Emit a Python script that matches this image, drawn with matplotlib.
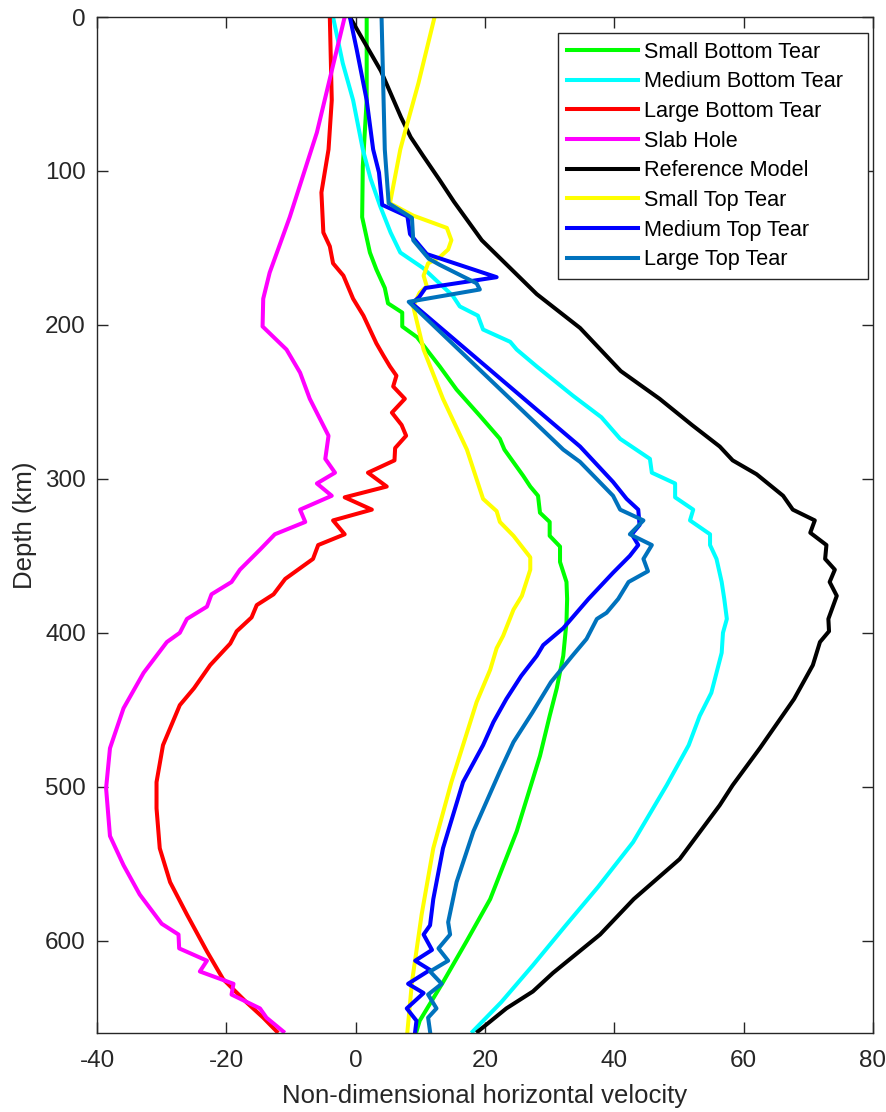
import numpy as np
import matplotlib
matplotlib.use("Agg")
import matplotlib.pyplot as plt

plt.rcParams['font.family'] = ['Liberation Sans', 'DejaVu Sans']
plt.rcParams['axes.unicode_minus'] = False

# depth (km), velocity pairs
small_bottom_d = [0, 54, 97, 130, 153, 164, 176, 186, 192, 201, 208, 227, 242, 259, 274, 281, 298, 305, 311, 322, 328, 337, 344, 354, 367, 378, 393, 415, 436, 454, 480, 529, 573, 600, 627, 652, 659]
small_bottom_v = [1.7, 1.7, 1.1, 1.0, 2.2, 3.2, 4.5, 5.0, 7.2, 7.2, 9.5, 13.0, 15.6, 19.2, 22.3, 23.0, 25.9, 27.0, 28.2, 28.5, 30.0, 30.0, 31.6, 31.6, 32.6, 32.7, 32.6, 32.1, 31.1, 30.0, 28.5, 24.9, 20.8, 17.2, 13.5, 9.9, 9.4]

medium_bottom_d = [0, 30, 54, 86, 105, 123, 140, 153, 163, 181, 188, 194, 203, 211, 216, 227, 246, 260, 274, 287, 296, 303, 312, 320, 327, 336, 343, 352, 367, 378, 391, 400, 413, 439, 454, 473, 499, 536, 565, 590, 616, 640, 659]
medium_bottom_v = [-3.5, -2.0, -0.4, 1.1, 2.3, 3.8, 5.4, 6.9, 10.4, 15.0, 16.1, 18.9, 19.7, 23.9, 24.9, 28.0, 33.6, 38.0, 40.9, 45.5, 45.8, 49.4, 49.4, 52.2, 51.7, 54.8, 54.8, 55.8, 56.6, 57.0, 57.4, 56.8, 56.6, 55.0, 53.2, 51.5, 48.1, 42.9, 37.5, 32.5, 27.4, 22.5, 18.1]

large_bottom_d = [0, 54, 86, 114, 140, 149, 160, 168, 183, 194, 212, 220, 227, 233, 240, 248, 257, 265, 272, 280, 288, 296, 305, 312, 320, 327, 336, 343, 352, 365, 375, 382, 390, 399, 407, 421, 436, 447, 473, 497, 514, 540, 562, 583, 607, 625, 640, 650, 659]
large_bottom_v = [-4.0, -3.7, -4.2, -5.3, -5.0, -4.0, -3.5, -1.9, -0.4, 1.2, 3.2, 4.3, 5.3, 6.3, 5.8, 7.6, 5.6, 7.1, 7.8, 6.1, 6.0, 1.9, 4.8, -1.7, 2.5, -3.5, -1.7, -5.8, -6.6, -10.9, -12.7, -15.3, -16.1, -18.4, -19.4, -22.5, -25.0, -27.2, -29.8, -30.8, -30.8, -30.3, -28.7, -26.1, -23.0, -20.5, -16.9, -14.3, -12.2]

slab_hole_d = [0, 75, 130, 166, 183, 201, 216, 231, 248, 272, 287, 296, 303, 311, 320, 328, 336, 346, 359, 367, 375, 383, 391, 400, 406, 426, 449, 475, 501, 532, 551, 570, 589, 596, 605, 613, 620, 628, 635, 644, 650, 659]
slab_hole_v = [-1.7, -6.0, -10.2, -13.3, -14.3, -14.4, -10.7, -8.6, -7.1, -4.2, -4.7, -3.2, -6.0, -3.7, -8.6, -7.8, -12.5, -14.8, -17.9, -19.2, -22.3, -23.0, -26.1, -27.2, -29.2, -32.8, -35.9, -38.0, -38.6, -38.0, -35.9, -33.4, -30.0, -27.4, -27.3, -23.0, -24.1, -18.9, -19.2, -14.8, -13.8, -11.2]

reference_d = [0, 35, 65, 78, 90, 106, 120, 145, 180, 202, 230, 248, 265, 279, 288, 297, 311, 320, 327, 335, 343, 352, 359, 367, 376, 391, 399, 406, 421, 443, 475, 499, 512, 547, 573, 596, 621, 633, 644, 659]
reference_v = [-0.9, 3.9, 7.0, 8.5, 10.4, 13.0, 15.2, 19.5, 28.0, 34.7, 41.0, 47.0, 52.0, 56.3, 58.3, 62.0, 66.1, 67.6, 71.0, 70.3, 72.8, 72.6, 74.1, 73.3, 74.4, 73.1, 73.2, 71.8, 70.7, 67.8, 62.5, 58.3, 56.3, 50.1, 43.0, 37.8, 30.5, 27.4, 23.3, 18.9]

small_top_d = [0, 43, 75, 86, 121, 129, 137, 145, 151, 156, 160, 168, 175, 179, 188, 216, 248, 281, 313, 321, 328, 337, 351, 359, 376, 385, 402, 410, 424, 445, 473, 497, 540, 583, 627, 659]
small_top_v = [12.2, 9.7, 7.6, 6.9, 5.3, 8.9, 14.1, 14.8, 14.3, 13.0, 11.2, 10.5, 11.0, 9.9, 8.9, 10.5, 13.5, 17.2, 19.7, 21.8, 22.3, 24.4, 27.0, 27.0, 25.7, 24.4, 22.8, 21.8, 20.8, 18.7, 16.6, 14.8, 12.0, 10.2, 8.7, 8.0]

medium_top_d = [0, 21, 54, 86, 101, 122, 129.5, 141, 154, 169, 176, 182, 186, 279, 302, 313, 320, 330, 336, 343, 350, 361, 378, 397, 408, 415, 428, 443, 458, 473, 497, 540, 573, 590, 596, 606, 613, 619, 628, 634, 644, 652, 659]
medium_top_v = [-0.9, 0.15, 1.7, 2.7, 3.6, 4.1, 8.0, 8.4, 11.0, 21.8, 10.8, 9.8, 8.7, 34.7, 39.8, 41.9, 43.7, 43.9, 42.7, 43.7, 42.4, 39.8, 36.0, 32.1, 29.0, 28.0, 25.6, 23.3, 21.3, 19.7, 16.6, 13.5, 12.0, 11.5, 10.5, 11.8, 9.2, 11.5, 8.1, 10.5, 7.9, 9.4, 9.2]

large_top_d = [0, 86, 121, 130.5, 145, 157, 161, 173, 177, 185, 281, 289, 311, 320, 327, 336, 343, 352, 360, 367, 378, 387, 391, 404, 415, 432, 452, 471, 490, 529, 562, 588, 596, 605, 613, 620, 628, 635, 644, 650, 659]
large_top_v = [4.0, 4.5, 5.1, 8.7, 8.9, 11.3, 13.0, 18.7, 19.2, 8.2, 32.1, 34.7, 39.8, 40.9, 44.5, 42.4, 45.8, 44.5, 45.2, 42.2, 40.6, 38.8, 37.3, 35.7, 33.5, 30.2, 27.3, 24.4, 22.3, 18.2, 15.6, 14.3, 14.6, 12.8, 14.3, 11.5, 13.3, 11.2, 12.5, 11.2, 11.5]

fig = plt.figure(figsize=(8.87, 11.12), dpi=100)
ax = fig.add_axes([0.1094, 0.071, 0.8748, 0.9137])

lw = 2.9
ax.plot(small_bottom_v, small_bottom_d, color=(0, 1, 0), lw=lw, label='Small Bottom Tear')
ax.plot(medium_bottom_v, medium_bottom_d, color=(0, 1, 1), lw=lw, label='Medium Bottom Tear')
ax.plot(large_bottom_v, large_bottom_d, color=(1, 0, 0), lw=lw, label='Large Bottom Tear')
ax.plot(slab_hole_v, slab_hole_d, color=(1, 0, 1), lw=lw, label='Slab Hole')
ax.plot(reference_v, reference_d, color='k', lw=lw, label='Reference Model')
ax.plot(small_top_v, small_top_d, color=(1, 1, 0), lw=lw, label='Small Top Tear')
ax.plot(medium_top_v, medium_top_d, color=(0, 0, 1), lw=lw, label='Medium Top Tear')
ax.plot(large_top_v, large_top_d, color='#0072BD', lw=lw, label='Large Top Tear')

ax.set_xlim(-40, 80)
ax.set_ylim(660, 0)
ax.set_xticks(np.arange(-40, 81, 20))
ax.set_yticks(np.arange(0, 601, 100))
ax.tick_params(direction='in', length=8, width=1, top=True, right=True,
               labelsize=17.5, colors='#262626')
ax.tick_params(axis='x', pad=12)
ax.tick_params(axis='y', pad=8)
for s in ax.spines.values():
    s.set_color('#262626')
    s.set_linewidth(1)

ax.set_xlabel('Non-dimensional horizontal velocity', fontsize=18.5, color='#262626', labelpad=9)
ax.set_ylabel('Depth (km)', fontsize=18.5, color='#262626', labelpad=6)

# legend box spans roughly x 558-868 px, top at 33 px
leg = ax.legend(loc='upper right', bbox_to_anchor=(0.594, 0.5, 0.3995, 0.4843),
                mode='expand', fontsize=15.6,
                handlelength=3.3, handletextpad=0.25, labelspacing=0.4,
                borderpad=0.4, fancybox=False, framealpha=1, borderaxespad=0)
leg.get_frame().set_edgecolor('#262626')
leg.get_frame().set_linewidth(1)

fig.savefig('out.png', dpi=100)
